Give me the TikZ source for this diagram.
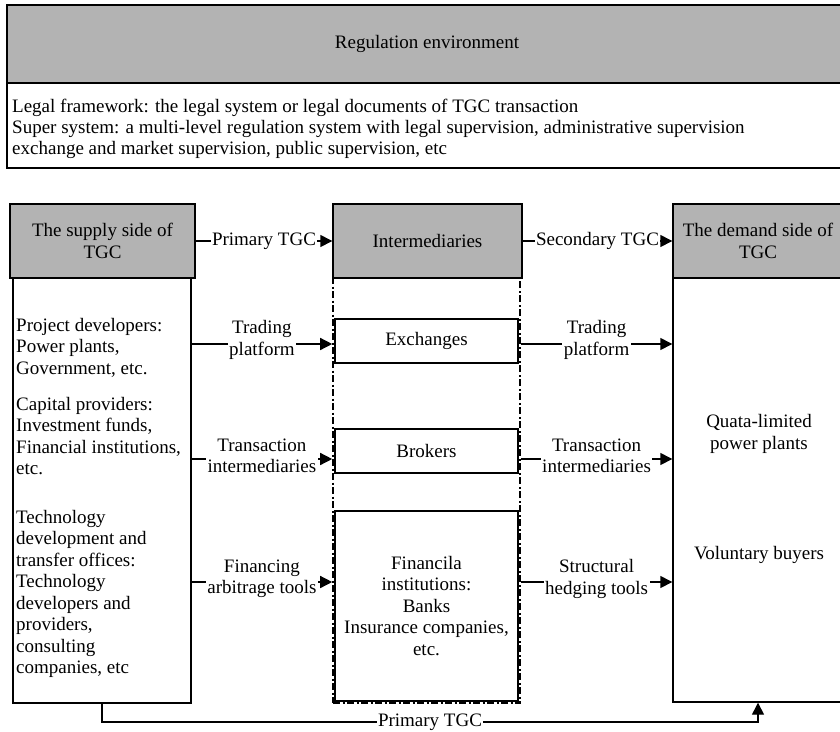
\documentclass[tikz,border=0pt]{standalone}
\usepackage{fontspec}
\setmainfont{Liberation Serif}
\usetikzlibrary{arrows.meta}
\definecolor{hdrgray}{RGB}{179,179,179}
\begin{document}
\begin{tikzpicture}[x=1pt,y=-1pt,
  every node/.style={font=\fontsize{19}{21.5}\selectfont},
  box/.style={draw, line width=1.4pt, inner sep=0pt},
  hdr/.style={box, fill=hdrgray, align=center},
  arr/.style={line width=1.4pt, -{Triangle[length=12pt,width=12pt]}},
  lab/.style={fill=white, inner sep=1.5pt, align=center},
  dashdot/.style={line width=1.6pt, dash pattern=on 7pt off 2.5pt on 2pt off 2.5pt},
  txt/.style={anchor=north west, inner sep=0pt, align=left}
]
\useasboundingbox (0,0) rectangle (840,731);
\fill[white] (0,0) rectangle (840,731);

% regulation environment
\node[hdr, minimum width=840, minimum height=78] (reg) at (427,44) {Regulation environment};
\node[box, minimum width=840, minimum height=85] (legal) at (427,125.5) {};
\node[txt, font=\fontsize{19}{20.8}\selectfont] (legaltxt) at (12,99) {Legal framework: the legal system or legal documents of TGC transaction\\Super system: a multi-level regulation system with legal supervision, administrative supervision\\exchange and market supervision, public supervision, etc};

% supply side
\node[hdr, minimum width=185, minimum height=74] (suph) at (102.5,241) {The supply side of\\TGC};
\node[box, minimum width=178, minimum height=425] (supb) at (102,490.5) {};
\node[txt] (s1) at (16,318) {Project developers:\\Power plants,\\Government, etc.};
\node[txt] (s2) at (16,397) {Capital providers:\\Investment funds,\\Financial institutions,\\etc.};
\node[txt] (s3) at (16,510) {Technology\\development and\\transfer offices:\\Technology\\developers and\\providers,\\consulting\\companies, etc};

% intermediaries
\node[hdr, minimum width=189, minimum height=74] (ih) at (427.5,241) {Intermediaries};
\node[draw, dashdot, inner sep=0pt, minimum width=187, minimum height=425] (idash) at (426.5,490.5) {};
\node[box, minimum width=183, minimum height=44] (exch) at (426.5,341) {Exchanges};
\node[box, minimum width=183, minimum height=44] (brok) at (426.5,451) {Brokers};
\node[box, minimum width=183, minimum height=190, align=center] (fin) at (426.5,606) {Financila\\institutions:\\Banks\\Insurance companies,\\etc.};

% demand side
\node[hdr, minimum width=170, minimum height=74] (dh) at (758,241) {The demand side of\\TGC};
\node[box, minimum width=170, minimum height=424] (db) at (758,490) {};
\node[align=center, inner sep=0pt] (quota) at (759,434) {Quata-limited\\power plants};
\node[inner sep=0pt] (vol) at (759,555) {Voluntary buyers};

% connectors
\coordinate (r1) at (0,344);
\coordinate (r2) at (0,459);
\coordinate (r3) at (0,582);
\coordinate (bot) at (0,722);

\draw[arr] (suph.east) -- node[lab]{Primary TGC} (ih.west);
\draw[arr] (ih.east) -- node[lab]{Secondary TGC} (dh.west);

\draw[arr] (supb.east |- r1) -- node[lab, yshift=4pt]{Trading\\platform} (idash.west |- r1);
\draw[arr] (supb.east |- r2) -- node[lab, yshift=3pt]{Transaction\\intermediaries} (idash.west |- r2);
\draw[arr] (supb.east |- r3) -- node[lab, yshift=3pt]{Financing\\arbitrage tools} (idash.west |- r3);

\draw[arr] (idash.east |- r1) -- node[lab, yshift=4pt]{Trading\\platform} (db.west |- r1);
\draw[arr] (idash.east |- r2) -- node[lab, yshift=3pt]{Transaction\\intermediaries} (db.west |- r2);
\draw[arr] (idash.east |- r3) -- node[lab, yshift=3pt]{Structural\\hedging tools} (db.west |- r3);

\draw[arr] (supb.south) -- (supb.south |- bot) -- node[lab]{Primary TGC} (db.south |- bot) -- (db.south);
\end{tikzpicture}
\end{document}
